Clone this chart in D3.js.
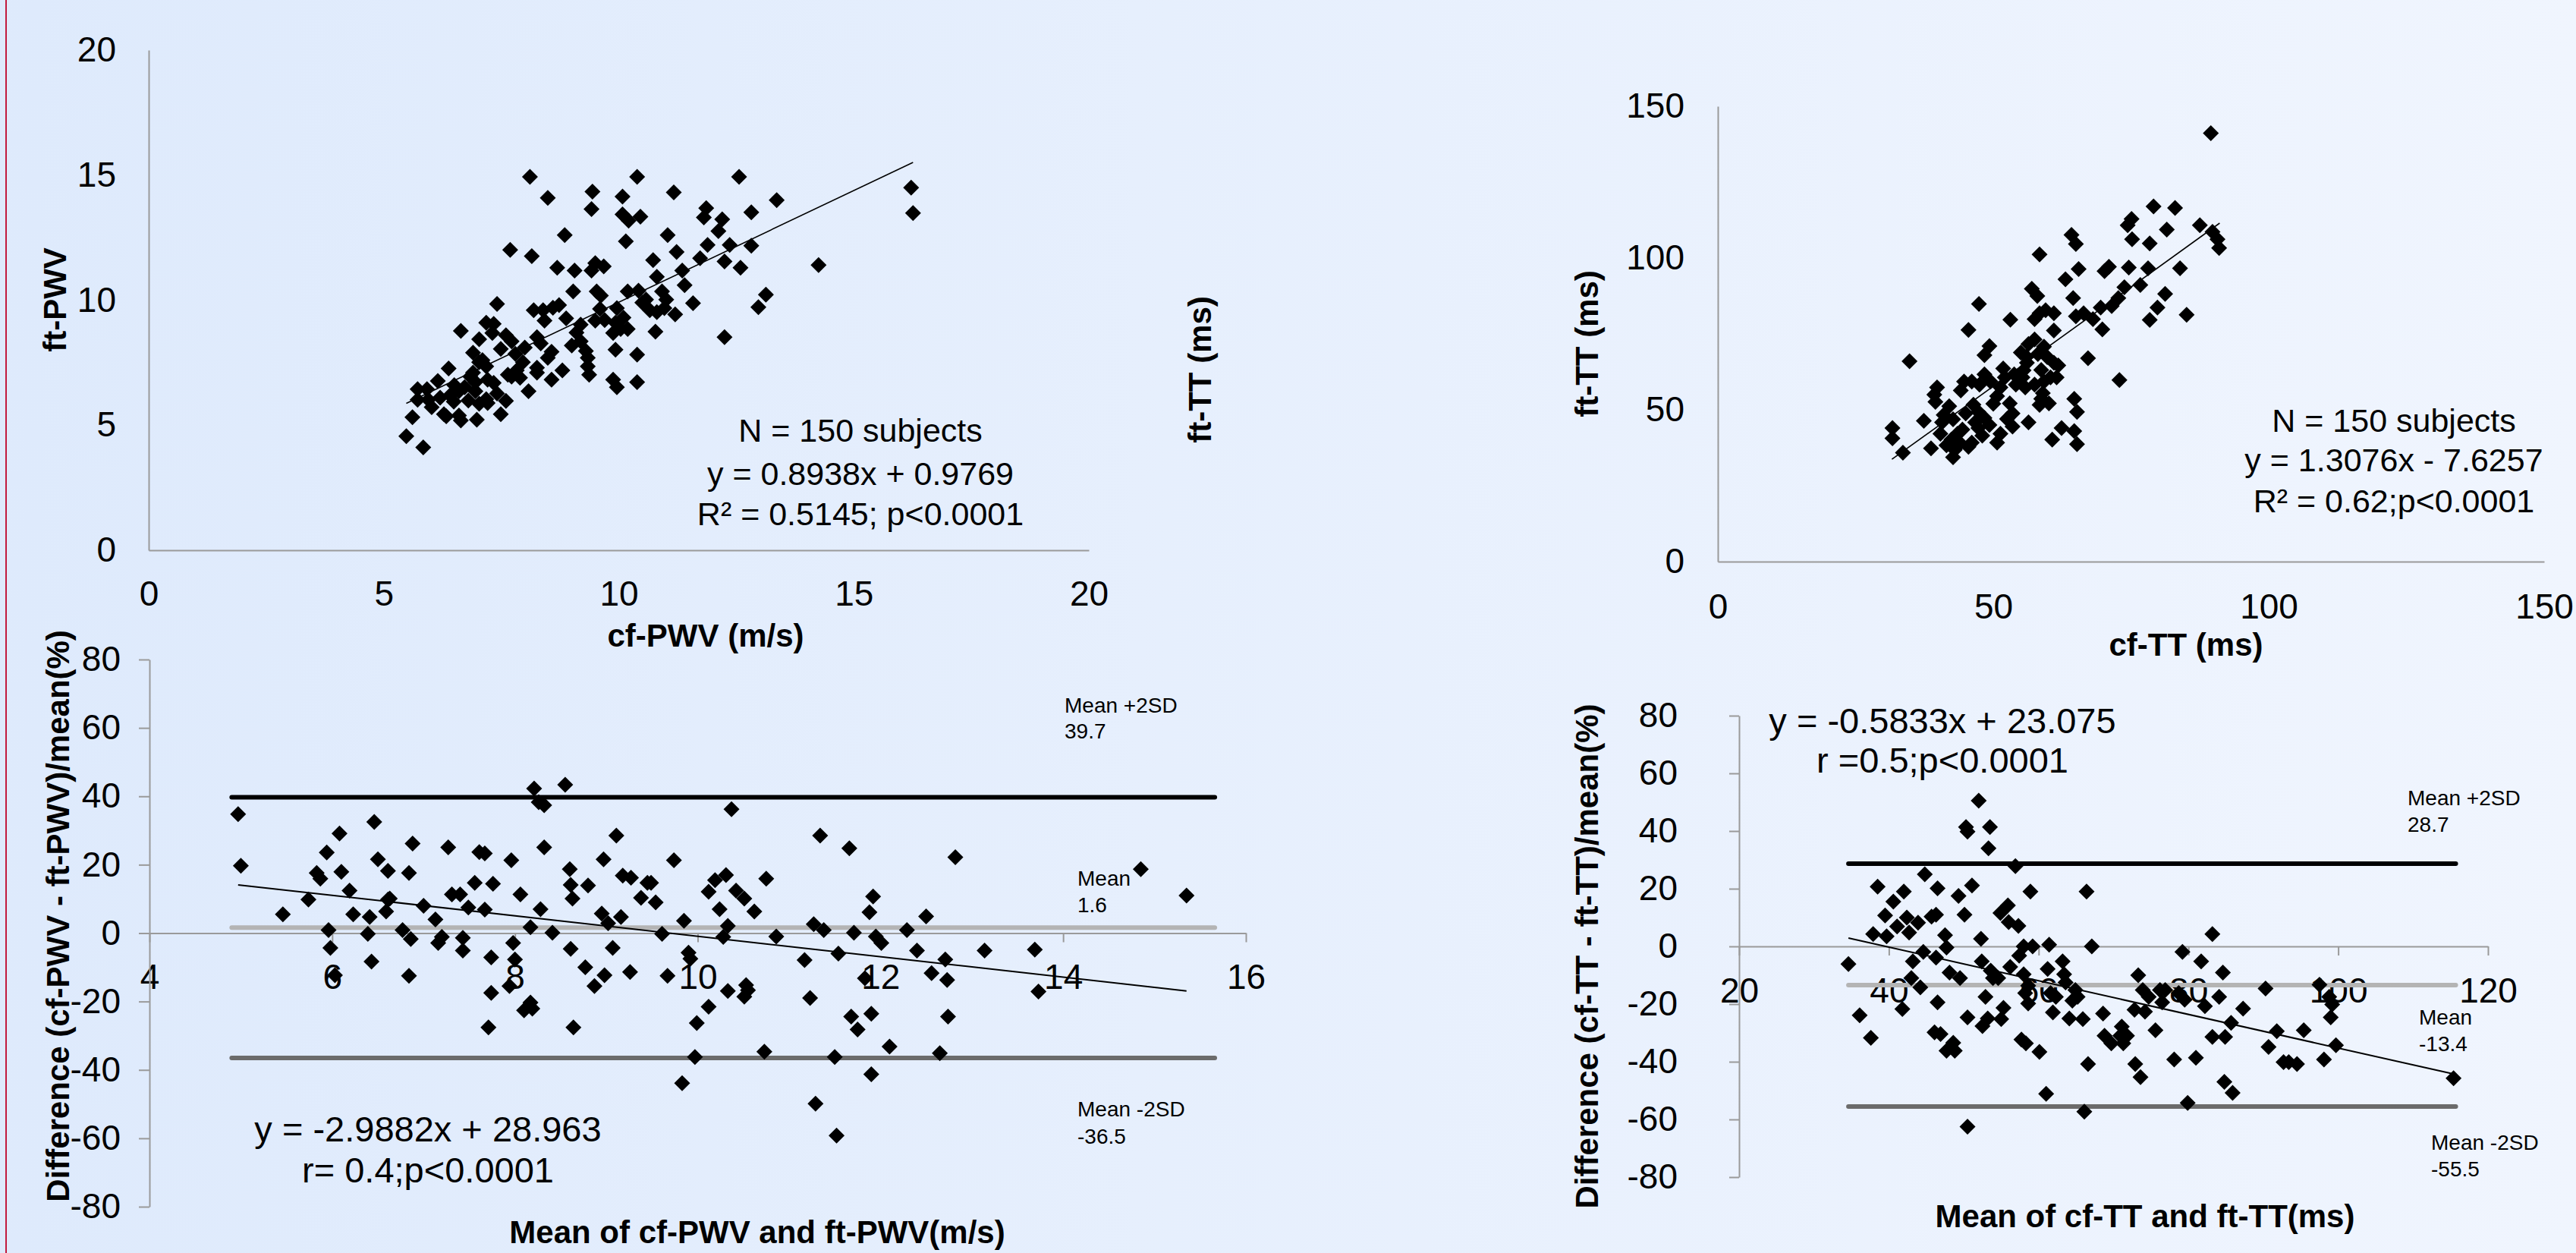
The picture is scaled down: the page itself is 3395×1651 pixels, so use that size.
<!DOCTYPE html>
<html lang="en">
<head>
<meta charset="UTF-8">
<title>cf vs ft PWV / TT agreement</title>
<script src="https://cdn.jsdelivr.net/npm/d3@7"></script>
<style>
    body { margin: 0; overflow: hidden; }
    svg text { font-family: "Liberation Sans", Arial, sans-serif; fill: #000; }
    .axis path, .axis line { stroke: #9a9a9a; stroke-width: 2; }
    .axis text { font-size: 46px; }
    .title { font-size: 42px; font-weight: bold; }
    .stat { font-size: 43px; }
    .stat-lg { font-size: 47px; }
    .ref-label { font-size: 28px; }
</style>
</head>
<body>
<script>
/*------------------------- data -------------------------*/
// top left: cf-PWV (x) vs ft-PWV (y), m/s
const pwvPoints = [
  [8.11,14.93],[10.39,14.93],[12.56,14.93],[8.49,14.09],[9.44,14.34],[10.08,14.14],[11.17,14.31],[13.36,14.0],
  [16.22,14.5],[16.26,13.48],[9.42,13.64],[10.08,13.43],[10.21,13.18],[10.46,13.34],[11.86,13.68],[11.81,13.31],
  [12.2,13.23],[12.82,13.51],[12.12,12.76],[11.04,12.6],[8.85,12.6],[10.15,12.35],[7.69,12.01],[8.15,11.76],
  [11.89,12.21],[12.36,12.21],[12.82,12.18],[11.23,11.93],[11.73,11.68],[12.25,11.55],[12.59,11.3],[14.25,11.4],
  [10.73,11.6],[11.35,11.18],[8.69,11.3],[9.06,11.18],[9.5,11.48],[9.68,11.35],[9.42,11.18],[10.81,10.93],
  [9.03,10.35],[9.53,10.35],[9.62,10.18],[10.19,10.35],[10.42,10.38],[10.92,10.35],[10.58,10.02],[11.01,10.02],
  [11.58,9.88],[13.13,10.22],[12.97,9.72],[7.41,9.85],[8.73,9.8],[8.19,9.6],[8.39,9.6],[9.6,9.65],
  [9.96,9.68],[10.66,9.6],[10.81,9.52],[11.2,9.43],[10.97,9.68],[8.88,9.27],[8.42,9.18],[9.19,9.02],
  [9.5,9.18],[9.93,9.1],[10.04,8.85],[10.19,8.85],[9.88,8.69],[10.78,8.74],[12.25,8.52],[7.18,9.1],
  [7.34,9.05],[6.64,8.77],[7.03,8.44],[7.31,8.69],[7.72,8.35],[7.49,8.05],[8.26,8.52],[8.34,8.27],
  [9.0,8.19],[9.19,8.35],[9.3,7.97],[9.93,8.02],[10.39,7.82],[7.8,7.85],[8.49,7.69],[9.34,7.69],
  [8.57,7.94],[7.96,7.52],[7.03,7.52],[7.18,7.35],[6.38,7.27],[8.26,7.3],[8.8,7.19],[7.83,7.19],
  [7.64,7.02],[7.72,6.94],[8.26,7.1],[8.57,6.82],[9.34,7.35],[9.37,7.02],[9.88,6.82],[9.96,6.52],
  [10.39,6.72],[6.84,6.94],[6.95,6.72],[7.21,6.82],[7.34,6.69],[6.72,6.52],[6.6,6.36],[6.95,6.36],
  [6.15,6.77],[5.92,6.44],[5.72,6.44],[7.41,6.27],[8.08,6.36],[6.9,7.1],[6.41,6.19],[5.72,6.02],
  [5.95,6.02],[6.49,5.94],[6.8,5.99],[7.21,5.89],[7.6,5.97],[7.18,6.04],[6.02,5.72],[6.28,5.44],
  [6.6,5.39],[7.03,5.86],[7.49,5.44],[6.98,5.22],[6.64,5.19],[6.33,5.36],[5.61,5.32],[5.48,4.56],
  [5.84,4.11],[7.1,7.6],[6.5,6.6],[8.0,8.1],[9.1,8.7],[7.9,6.9],[6.2,6.1],[10.1,9.3],
  [8.6,9.7],[11.4,10.6],[7.6,8.6],[6.9,7.9],[9.7,9.2],[10.5,9.9]
];

// top right: cf-TT (x) vs ft-TT (y), ms
const ttPoints = [
  [89.5,141.1],[79.1,117.0],[83.0,116.5],[75.1,112.9],[74.4,110.8],[81.5,109.4],[87.5,110.8],[89.8,108.6],
  [90.7,106.2],[91.0,103.3],[75.2,106.2],[78.4,104.8],[64.2,107.6],[65.0,104.6],[58.4,101.2],[65.5,96.4],
  [71.0,97.1],[70.2,95.7],[74.6,96.9],[78.1,96.6],[83.9,96.6],[63.1,93.0],[57.0,89.9],[58.0,87.5],
  [64.5,86.8],[47.4,84.9],[53.1,79.7],[73.8,90.4],[76.7,91.1],[81.2,88.2],[79.8,83.7],[78.4,79.6],
  [85.1,81.3],[72.7,86.8],[71.5,84.2],[69.5,83.7],[66.4,81.8],[65.0,80.8],[68.1,79.9],[69.8,76.5],
  [58.4,81.8],[59.5,82.8],[61.0,81.8],[57.5,79.9],[61.0,76.1],[45.5,76.3],[34.8,66.0],[49.3,71.0],
  [48.4,68.0],[56.4,71.7],[55.0,68.9],[57.5,73.2],[59.2,70.8],[58.1,68.4],[59.8,67.4],[61.0,65.5],
  [61.8,64.6],[67.2,67.0],[56.1,65.5],[58.7,63.1],[60.4,60.7],[61.5,60.7],[51.8,63.6],[53.8,61.7],
  [55.3,60.7],[52.1,60.7],[54.1,58.3],[55.8,57.4],[57.5,58.3],[59.2,59.3],[48.4,61.7],[49.5,59.3],
  [47.5,58.3],[46.1,59.3],[44.7,59.3],[44.1,56.4],[39.8,57.4],[39.3,55.0],[39.5,52.6],[42.0,51.2],
  [72.9,59.8],[50.7,54.5],[51.3,57.4],[53.0,52.1],[53.5,48.8],[53.5,44.5],[56.4,45.9],[59.0,55.5],
  [58.7,53.6],[60.1,52.1],[58.4,51.6],[64.7,53.6],[65.2,49.3],[62.4,44.0],[60.7,40.2],[64.7,43.0],
  [65.2,38.7],[37.4,46.4],[41.0,48.3],[40.7,45.9],[42.7,46.9],[45.0,48.8],[46.4,51.7],[47.3,49.3],
  [48.4,47.3],[46.7,45.9],[49.3,45.0],[44.4,43.5],[43.5,42.1],[42.4,40.2],[41.5,38.3],[43.0,36.8],
  [42.7,34.4],[38.7,37.3],[45.5,37.8],[46.1,39.2],[50.7,39.2],[51.3,42.1],[31.7,44.0],[31.7,40.6],
  [33.6,35.9],[40.4,42.1],[47.3,44.0],[44.0,39.0],[48.0,41.5],[52.5,47.0],[55.5,63.0],[56.0,67.5],
  [50.0,52.0]
];

// bottom left: mean PWV (x) vs % difference (y)
const pwvDiff = [
  [4.97,34.8],[5.0,19.7],[5.46,5.5],[5.74,9.8],[5.83,17.6],[5.87,15.9],[5.94,23.6],[5.96,0.9],
  [5.98,-4.3],[6.03,-12.3],[6.08,29.1],[6.1,17.9],[6.19,12.4],[6.23,5.5],[6.39,-0.2],[6.41,4.7],
  [6.43,-8.3],[6.46,32.5],[6.5,21.6],[6.61,18.2],[6.61,9.8],[6.63,10.1],[6.59,6.3],[6.77,0.9],
  [6.84,-12.5],[6.84,17.6],[6.86,-1.7],[6.88,26.2],[7.0,8.0],[7.13,4.0],[7.16,-2.9],[7.2,-1.1],
  [7.27,25.1],[7.31,11.3],[7.4,11.3],[7.43,-1.4],[7.43,-5.1],[7.49,7.5],[7.56,14.7],[7.61,23.7],
  [7.67,23.3],[7.67,6.9],[7.71,-27.6],[7.74,-17.5],[7.74,-7.1],[7.76,14.4],[7.96,21.3],[7.98,-2.9],
  [8.0,-7.7],[7.94,-15.5],[8.06,11.3],[8.1,-22.6],[8.17,-20.3],[8.19,-22.1],[8.17,1.7],[8.21,42.3],
  [8.26,38.3],[8.32,37.4],[8.28,7.0],[8.32,25.1],[8.41,0.1],[8.55,43.4],[8.6,18.7],[8.61,14.1],
  [8.63,10.1],[8.61,-4.6],[8.64,-27.6],[8.77,-10.0],[8.8,13.9],[8.87,-15.5],[8.95,5.7],[8.97,21.6],
  [8.98,-12.3],[9.02,2.9],[9.07,-4.3],[9.11,28.5],[9.16,4.7],[9.18,16.8],[9.26,-11.4],[9.27,16.2],
  [9.38,10.3],[9.45,14.7],[9.49,14.7],[9.54,9.0],[9.61,-0.2],[9.67,-12.5],[9.74,21.3],[9.85,3.6],
  [9.83,-43.9],[9.9,-5.7],[9.92,-7.5],[9.97,-36.2],[9.99,-26.3],[10.12,-21.5],[10.12,12.1],[10.19,15.5],
  [10.24,7.0],[10.28,-1.1],[10.31,17.0],[10.33,2.1],[10.33,-16.9],[10.37,36.2],[10.42,12.4],[10.51,10.1],
  [10.53,-15.2],[10.51,-18.6],[10.55,-16.7],[10.62,6.3],[10.73,-34.7],[10.75,15.9],[10.86,-1.0],[11.17,-7.9],
  [11.23,-19.0],[11.27,2.6],[11.29,-49.9],[11.34,28.5],[11.38,0.9],[11.5,-36.2],[11.54,-6.0],[11.52,-59.2],
  [11.66,24.8],[11.68,-24.4],[11.71,0.1],[11.75,-28.2],[11.83,-13.2],[11.88,6.1],[11.92,10.7],[11.9,-23.6],
  [11.9,-41.3],[11.95,-1.0],[12.01,-2.9],[12.1,-33.2],[12.29,0.9],[12.4,-5.1],[12.5,4.9],[12.56,-11.7],
  [12.65,-35.1],[12.71,-7.7],[12.73,-13.7],[12.74,-24.4],[12.82,22.2],[13.14,-5.1],[13.69,-4.8],[13.73,-17.1],
  [14.85,18.7],[15.35,11.0]
];

// bottom right: mean TT (x) vs % difference (y)
const ttDiff = [
  [34.6,-6.1],[36.1,-23.9],[37.6,-31.7],[37.9,4.3],[38.5,20.7],[39.5,10.7],[39.7,3.5],[40.6,15.5],
  [41.1,6.9],[42.0,19.0],[41.8,-21.7],[42.4,10.0],[42.7,4.8],[43.0,-11.0],[43.2,-5.2],[43.9,8.2],
  [44.2,-14.2],[44.6,-1.9],[44.8,25.0],[45.7,10.3],[46.3,11.0],[46.3,-3.9],[46.1,-29.8],[46.5,20.1],
  [46.5,-19.4],[46.9,-30.4],[47.5,3.9],[47.7,-0.4],[47.7,-36.2],[48.1,-9.1],[48.6,-33.4],[48.8,-36.2],
  [49.3,17.5],[49.5,-11.0],[50.1,11.0],[50.3,41.4],[50.5,39.8],[50.5,-24.6],[50.5,-62.5],[51.1,21.1],
  [52.0,50.5],[52.3,2.6],[52.4,-5.2],[52.5,-27.6],[52.9,-17.5],[53.2,-25.0],[53.5,41.4],[53.3,34.0],
  [53.6,-8.4],[53.9,-11.0],[54.6,-11.0],[54.9,11.6],[55.0,-25.2],[55.3,-21.3],[55.9,14.2],[56.0,8.4],
  [56.2,-7.1],[56.9,27.8],[57.3,7.1],[57.4,-3.2],[57.7,-32.3],[58.0,0.0],[58.0,-9.7],[58.2,-16.2],
  [58.3,-33.6],[58.6,-13.6],[58.6,-19.8],[58.9,19.0],[59.2,0.0],[60.1,-36.6],[61.0,-51.1],[61.2,-7.8],
  [61.4,0.6],[61.6,-16.2],[61.9,-22.9],[62.3,-17.5],[63.2,-5.2],[63.4,-9.7],[63.6,-12.5],[64.1,-25.0],
  [64.5,-18.8],[64.9,-15.1],[65.2,-17.5],[65.9,-25.2],[66.1,-57.3],[66.4,19.0],[66.6,-40.8],[67.1,0.0],
  [68.6,-23.3],[68.8,-31.0],[69.7,-33.6],[70.9,-31.0],[71.1,-27.8],[71.3,-33.6],[71.8,-31.0],[72.8,-22.0],
  [72.9,-40.8],[73.3,-10.0],[73.6,-45.3],[73.9,-15.1],[74.2,-22.6],[74.7,-17.5],[75.6,-29.1],[76.2,-15.1],
  [76.5,-19.4],[76.9,-15.1],[78.1,-39.2],[78.7,-16.2],[79.2,-1.9],[79.5,-18.5],[79.9,-54.3],[81.0,-38.6],
  [81.7,-5.2],[82.2,-20.7],[83.2,4.3],[83.2,-31.4],[84.1,-17.5],[84.6,-9.1],[84.9,-31.4],[84.8,-47.0],
  [85.7,-26.5],[85.9,-50.8],[87.3,-21.6],[90.3,-14.6],[90.7,-34.9],[91.8,-29.4],[92.7,-40.1],[93.4,-40.1],
  [94.5,-40.8],[95.4,-29.1],[97.5,-13.3],[98.1,-39.2],[98.8,-17.5],[99.2,-20.1],[99.0,-24.6],[99.7,-34.3],
  [115.4,-45.7]
];

// tick values per panel
const pwvTicks = [0, 5, 10, 15, 20];
const ttTicks = [0, 50, 100, 150];
const pwvMeanTicks = [4, 6, 8, 10, 12, 14, 16];
const ttMeanTicks = [20, 40, 60, 80, 100, 120];
const diffTicks = [-80, -60, -40, -20, 0, 20, 40, 60, 80];

// regression lines: [slope, intercept, xStart, xEnd]
const pwvFit = [0.8938, 0.9769, 5.48, 16.26];
const ttFit = [1.3076, -7.6257, 31.6, 91.1];
const pwvDiffFit = [-2.9882, 28.963, 4.97, 15.35];
const ttDiffFit = [-0.5833, 23.075, 34.6, 115.7];

// Bland-Altman limits: mean+2SD, mean, mean-2SD
const pwvLimits = [39.7, 1.6, -36.5];
const ttLimits = [28.7, -13.4, -55.5];
const limitNames = ["Mean +2SD", "Mean", "Mean -2SD"];
const limitColors = ["#000000", "#b4b4b4", "#6b6b6b"];

/*------------------------- svg -------------------------*/
const W = 3395, H = 1651;
const svg = d3.select("body").append("svg").attr("width", W).attr("height", H);

const grad = svg.append("defs").append("linearGradient").attr("id", "bg")
    .attr("x1", 0).attr("x2", 1).attr("y1", 0).attr("y2", 0);
grad.append("stop").attr("offset", 0).attr("stop-color", "#deeafc");
grad.append("stop").attr("offset", 1).attr("stop-color", "#f0f5fe");
svg.append("rect").attr("width", W).attr("height", H).attr("fill", "url(#bg)");
svg.append("line").attr("x1", 8).attr("x2", 8).attr("y1", 0).attr("y2", H)
    .attr("stroke", "#c21a3e").attr("stroke-width", 2);

const diamond = r => `M0,${-r}L${r},0L0,${r}L${-r},0Z`;
const fmt = d => String(d);

function drawAxes(x, y, xTicks, yTicks, xAt, o) {
    svg.append("g").attr("class", "axis")
        .attr("transform", `translate(0,${y(xAt)})`)
        .call(d3.axisBottom(x).tickValues(xTicks).tickFormat(fmt)
            .tickSizeInner(o.xTick).tickSizeOuter(0).tickPadding(o.xPad))
        .call(g => g.selectAll("text").attr("fill", "#000"));
    svg.append("g").attr("class", "axis")
        .attr("transform", `translate(${x.range()[0]},0)`)
        .call(d3.axisLeft(y).tickValues(yTicks).tickFormat(fmt)
            .tickSizeInner(o.yTick).tickSizeOuter(0).tickPadding(o.yPad))
        .call(g => g.selectAll("text").attr("fill", "#000"));
}

function drawPoints(x, y, pts) {
    svg.append("g").selectAll("path").data(pts).enter().append("path")
        .attr("d", diamond(10.5))
        .attr("transform", d => `translate(${x(d[0])},${y(d[1])})`)
        .attr("fill", "#000");
}

function drawFit(x, y, f, w) {
    svg.append("line")
        .attr("x1", x(f[2])).attr("y1", y(f[0] * f[2] + f[1]))
        .attr("x2", x(f[3])).attr("y2", y(f[0] * f[3] + f[1]))
        .attr("stroke", "#000").attr("stroke-width", w);
}

function drawLimits(x, y, limits, x0, x1) {
    limits.forEach((v, i) => {
        svg.append("line")
            .attr("x1", x(x0)).attr("x2", x(x1)).attr("y1", y(v)).attr("y2", y(v))
            .attr("stroke", limitColors[i]).attr("stroke-width", 6).attr("stroke-linecap", "round");
    });
}

function textLines(cls, cx, baselines, lines, anchor) {
    lines.forEach((t, i) => {
        svg.append("text").attr("class", cls).attr("x", cx).attr("y", baselines[i])
            .attr("text-anchor", anchor || "middle").text(t);
    });
}

function yTitle(cx, cy, t) {
    svg.append("text").attr("class", "title")
        .attr("transform", `translate(${cx},${cy}) rotate(-90)`)
        .attr("dy", "0.35em").attr("text-anchor", "middle").text(t);
}

/*------------------- top left: PWV -------------------*/
{
    const x = d3.scaleLinear().domain([0, 20]).range([196, 1435]);
    const y = d3.scaleLinear().domain([0, 20]).range([725, 66]);
    drawAxes(x, y, pwvTicks, pwvTicks, 0, { xTick: 0, xPad: 40, yTick: 0, yPad: 43 });
    drawPoints(x, y, pwvPoints);
    drawFit(x, y, pwvFit, 1.6);
    textLines("stat", 1134, [582, 639, 692],
        ["N = 150 subjects", "y = 0.8938x + 0.9769", "R\u00b2 = 0.5145; p<0.0001"]);
    textLines("title", 930, [852], ["cf-PWV (m/s)"]);
    yTitle(72, 395, "ft-PWV");
    yTitle(1581, 487, "ft-TT (ms)");
}

/*------------------- top right: TT -------------------*/
{
    const x = d3.scaleLinear().domain([0, 150]).range([2264, 3353]);
    const y = d3.scaleLinear().domain([0, 150]).range([740, 140]);
    drawAxes(x, y, ttTicks, ttTicks, 0, { xTick: 0, xPad: 42, yTick: 0, yPad: 44 });
    drawPoints(x, y, ttPoints);
    drawFit(x, y, ttFit, 1.6);
    textLines("stat", 3155, [569, 621, 675],
        ["N = 150 subjects", "y = 1.3076x - 7.6257", "R\u00b2 = 0.62;p<0.0001"]);
    textLines("title", 2881, [864], ["cf-TT (ms)"]);
    yTitle(2091, 453, "ft-TT (ms)");
}

/*------------------- bottom left: PWV agreement -------------------*/
{
    const x = d3.scaleLinear().domain([4, 16]).range([197, 1642]);
    const y = d3.scaleLinear().domain([-80, 80]).range([1590, 869]);
    drawAxes(x, y, pwvMeanTicks, diffTicks, 0, { xTick: 12, xPad: 29, yTick: 14, yPad: 24 });
    drawLimits(x, y, pwvLimits, 4.9, 15.66);
    drawPoints(x, y, pwvDiff);
    drawFit(x, y, pwvDiffFit, 2);
    textLines("stat-lg", 564, [1504, 1558], ["y = -2.9882x + 28.963", "r= 0.4;p<0.0001"]);
    textLines("ref-label", 1403, [939, 973], [limitNames[0], String(pwvLimits[0])], "start");
    textLines("ref-label", 1420, [1167, 1202], [limitNames[1], String(pwvLimits[1])], "start");
    textLines("ref-label", 1420, [1471, 1507], [limitNames[2], String(pwvLimits[2])], "start");
    textLines("title", 998, [1638], ["Mean of cf-PWV and ft-PWV(m/s)"]);
    yTitle(76, 1207, "Difference (cf-PWV - ft-PWV)/mean(%)");
}

/*------------------- bottom right: TT agreement -------------------*/
{
    const x = d3.scaleLinear().domain([20, 120]).range([2292, 3279]);
    const y = d3.scaleLinear().domain([-80, 80]).range([1551, 943]);
    drawAxes(x, y, ttMeanTicks, diffTicks, 0, { xTick: 12, xPad: 29, yTick: 13, yPad: 68 });
    drawLimits(x, y, ttLimits, 34.6, 115.7);
    drawPoints(x, y, ttDiff);
    drawFit(x, y, ttDiffFit, 2);
    textLines("stat-lg", 2560, [966, 1018], ["y = -0.5833x + 23.075", "r =0.5;p<0.0001"]);
    textLines("ref-label", 3173, [1061, 1096], [limitNames[0], String(ttLimits[0])], "start");
    textLines("ref-label", 3188, [1350, 1385], [limitNames[1], String(ttLimits[1])], "start");
    textLines("ref-label", 3204, [1515, 1550], [limitNames[2], String(ttLimits[2])], "start");
    textLines("title", 2827, [1617], ["Mean of cf-TT and ft-TT(ms)"]);
    yTitle(2091, 1260, "Difference (cf-TT - ft-TT)/mean(%)");
}
</script>
</body>
</html>
